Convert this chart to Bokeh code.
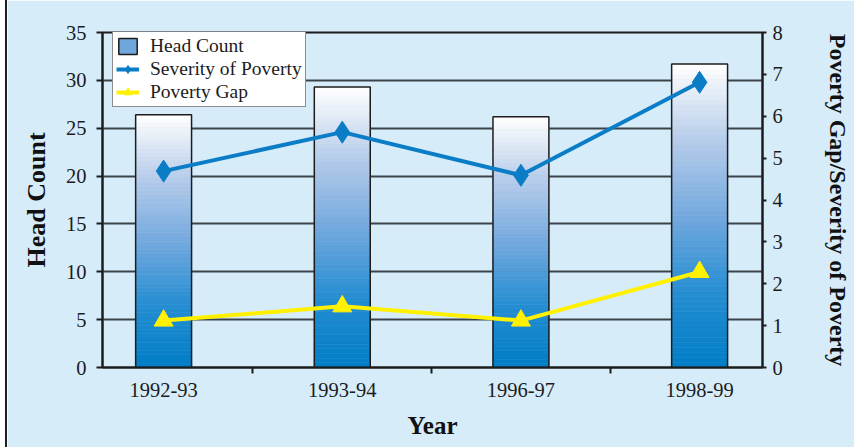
from bokeh.plotting import figure
from bokeh.models import (Range1d, LinearAxis, FixedTicker, Legend, LegendItem,
                          ColumnDataSource)
from bokeh.embed import file_html
from bokeh.resources import INLINE

# ---- data -------------------------------------------------------------
years = ["1992-93", "1993-94", "1996-97", "1998-99"]
head_count = [26.4, 29.3, 26.2, 31.7]          # left axis
severity = [4.69, 5.62, 4.59, 6.81]            # right axis
poverty_gap = [1.12, 1.46, 1.12, 2.28]         # right axis
left_ticks = [0, 5, 10, 15, 20, 25, 30, 35]
right_ticks = [0, 1, 2, 3, 4, 5, 6, 7, 8]

BG = "#D6ECF9"
INK = "#1c1c1c"
GRID = "#3b4249"
BLUE = "#0B7DC6"
YELLOW = "#FFF100"
FONT = "Liberation Serif"

xs = list(range(len(years)))

p = figure(width=849, height=447,
           x_range=Range1d(-0.342, 3.352), y_range=Range1d(0, 35),
           output_backend="svg", toolbar_location=None,
           min_border_left=95, min_border_right=94,
           min_border_top=32, min_border_bottom=80,
           background_fill_color=BG, border_fill_color=BG,
           outline_line_color=INK, outline_line_width=2)
p.styles = {"border-left": "2px solid #1e1e1e", "margin-left": "5px"}
p.extra_y_ranges = {"right": Range1d(0, 8)}

# ---- gradient bars: each bar is a stack of thin slices ----------------
stops = [(0.0, (0, 125, 198)), (0.25, (38, 142, 210)), (0.5, (116, 169, 222)),
         (0.75, (182, 204, 234)), (0.92, (232, 239, 248)), (1.0, (255, 255, 255))]


def shade(t):
    for (t0, c0), (t1, c1) in zip(stops[:-1], stops[1:]):
        if t <= t1:
            f = (t - t0) / (t1 - t0)
            return "#%02x%02x%02x" % tuple(round(a + (b - a) * f) for a, b in zip(c0, c1))
    return "#ffffff"


BAR_W = 0.313
N = 60
sl = dict(left=[], right=[], bottom=[], top=[], color=[])
for x, v in zip(xs, head_count):
    for k in range(N):
        sl["left"].append(x - BAR_W / 2)
        sl["right"].append(x + BAR_W / 2)
        sl["bottom"].append(v * k / N)
        sl["top"].append(v * (k + 1) / N)
        sl["color"].append(shade((k + 0.5) / N))
p.quad(left="left", right="right", bottom="bottom", top="top",
       fill_color="color", line_color="color", line_width=0.6,
       source=ColumnDataSource(sl))
p.vbar(x=xs, top=head_count, width=BAR_W, fill_color=None,
       line_color=INK, line_width=1.5)

# swatch for the legend entry of the bars (sits outside the visible x range)
bar_key = p.quad(left=[-9], right=[-8], bottom=[0], top=[1], fill_color="#6FA6DB",
                 line_color=INK, line_width=1.5)

# ---- lines on the secondary axis ---------------------------------------
sev_line = p.line(xs, severity, y_range_name="right", line_color=BLUE, line_width=4)
sev_pts = p.scatter(xs, severity, y_range_name="right", marker="diamond",
                    size=22, fill_color=BLUE, line_color=BLUE)
gap_line = p.line(xs, poverty_gap, y_range_name="right", line_color=YELLOW, line_width=4)
gap_pts = p.scatter(xs, poverty_gap, y_range_name="right", marker="triangle",
                    size=19, fill_color=YELLOW, line_color=YELLOW)

# ---- axes ---------------------------------------------------------------
def style_axis(ax, size="20.5px"):
    ax.axis_line_color = INK
    ax.axis_line_width = 2
    ax.major_tick_line_color = INK
    ax.major_tick_line_width = 2
    ax.minor_tick_line_color = INK
    ax.minor_tick_line_width = 2
    ax.major_label_text_font = FONT
    ax.major_label_text_font_size = size
    ax.major_label_text_color = INK
    ax.axis_label_text_font = FONT
    ax.axis_label_text_font_style = "bold"
    ax.axis_label_text_font_size = "25px"
    ax.axis_label_text_color = "#111111"


xa = p.xaxis[0]
style_axis(xa)
xa.ticker = FixedTicker(ticks=xs, minor_ticks=[0.5, 1.5, 2.5])
xa.major_label_overrides = {i: y for i, y in zip(xs, years)}
xa.major_tick_out = 0
xa.major_tick_in = 0
xa.minor_tick_out = 6
xa.minor_tick_in = 0
xa.major_label_standoff = 9
xa.axis_label = "Year"
xa.axis_label_standoff = 12

ya = p.yaxis[0]
style_axis(ya)
ya.ticker = FixedTicker(ticks=left_ticks)
ya.major_tick_out = 6
ya.major_tick_in = 0
ya.minor_tick_out = 0
ya.major_label_standoff = 10
ya.axis_label = "Head Count"
ya.axis_label_text_font_size = "26px"
ya.axis_label_standoff = 12

yr = LinearAxis(y_range_name="right", ticker=FixedTicker(ticks=right_ticks),
                axis_label="Poverty Gap/Severity of Poverty")
style_axis(yr)
yr.axis_label_text_font_size = "24px"
yr.major_tick_out = 4
yr.major_tick_in = 0
yr.minor_tick_out = 0
yr.major_label_standoff = 6
yr.axis_label_standoff = 39
p.add_layout(yr, "right")

p.xgrid.visible = False
p.ygrid.ticker = FixedTicker(ticks=left_ticks)
p.ygrid.grid_line_color = GRID
p.ygrid.grid_line_width = 2

# ---- legend -------------------------------------------------------------
legend = Legend(items=[
    LegendItem(label="Head Count", renderers=[bar_key]),
    LegendItem(label="Severity of Poverty", renderers=[sev_line, sev_pts]),
    LegendItem(label="Poverty Gap", renderers=[gap_line, gap_pts]),
], location=(10, 260))
legend.background_fill_color = "white"
legend.background_fill_alpha = 1
legend.border_line_color = INK
legend.border_line_width = 1.5
legend.label_text_font = FONT
legend.label_text_font_size = "19.5px"
legend.label_text_color = INK
legend.padding = 3
legend.spacing = 0
legend.margin = 0
legend.label_height = 23
legend.glyph_height = 20
legend.glyph_width = 23
legend.label_standoff = 11
p.add_layout(legend, "center")

open("out.html", "w").write(file_html(p, INLINE))
